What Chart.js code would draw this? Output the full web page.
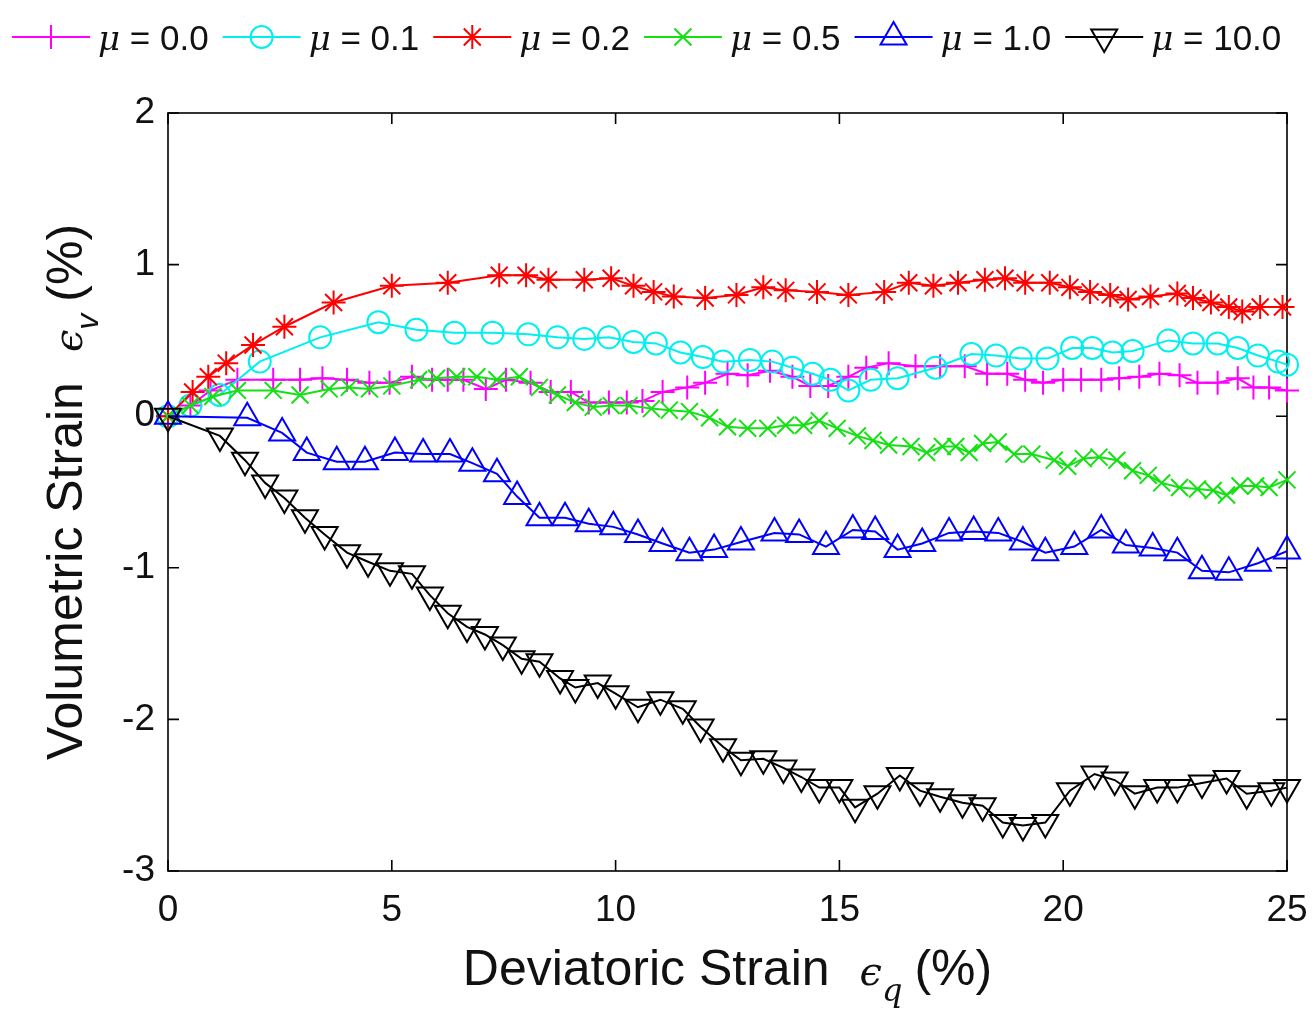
<!DOCTYPE html>
<html>
<head>
<meta charset="utf-8">
<script src="https://cdn.jsdelivr.net/npm/chart.js@4.4.0/dist/chart.umd.min.js"></script>
<style>
  html, body { margin: 0; padding: 0; background: #fff; }
</style>
</head>
<body>
<canvas id="strainChart" width="1314" height="1016"></canvas>
<script>
/* Volumetric vs deviatoric strain for several friction coefficients */

const X_TICKS = [0, 5, 10, 15, 20, 25];
const Y_TICKS = [-3, -2, -1, 0, 1, 2];
const SERIES_LABELS = ['0.0', '0.1', '0.2', '0.5', '1.0', '10.0'];

const mu00X = [0, 0.5, 0.95, 1.55, 2.35, 2.95, 3.45, 4.0, 4.5, 4.95, 5.45, 5.9, 6.25, 6.6, 7.1, 7.55, 8.1, 8.55, 9.0, 9.4, 9.85, 10.25, 10.6, 11.05, 11.6, 12.0, 12.5, 12.95, 13.45, 13.95, 14.35, 14.75, 15.2, 15.6, 16.1, 16.7, 17.25, 17.8, 18.3, 18.75, 19.15, 19.55, 20.0, 20.4, 20.85, 21.25, 21.7, 22.15, 22.6, 23.0, 23.45, 23.9, 24.25, 24.6, 25];
const mu00Y = [0, 0.07, 0.17, 0.24, 0.24, 0.24, 0.25, 0.24, 0.22, 0.22, 0.26, 0.24, 0.24, 0.24, 0.18, 0.24, 0.22, 0.16, 0.16, 0.09, 0.09, 0.09, 0.10, 0.16, 0.19, 0.22, 0.28, 0.27, 0.30, 0.26, 0.20, 0.20, 0.26, 0.32, 0.35, 0.33, 0.33, 0.33, 0.28, 0.28, 0.24, 0.22, 0.24, 0.24, 0.24, 0.25, 0.26, 0.28, 0.27, 0.22, 0.22, 0.25, 0.19, 0.19, 0.17];

const mu01X = [0, 0.5, 1.15, 2.05, 3.4, 4.7, 5.55, 6.4, 7.25, 8.05, 8.7, 9.3, 9.85, 10.4, 10.9, 11.45, 11.95, 12.4, 13.0, 13.5, 13.95, 14.4, 14.8, 15.2, 15.7, 16.3, 17.15, 17.95, 18.5, 19.05, 19.65, 20.2, 20.65, 21.1, 21.55, 22.35, 22.9, 23.45, 23.9, 24.35, 24.8, 25];
const mu01Y = [0, 0.07, 0.14, 0.36, 0.52, 0.62, 0.57, 0.55, 0.55, 0.54, 0.52, 0.51, 0.52, 0.49, 0.48, 0.42, 0.39, 0.36, 0.37, 0.36, 0.32, 0.28, 0.24, 0.17, 0.24, 0.25, 0.32, 0.41, 0.40, 0.38, 0.38, 0.45, 0.45, 0.42, 0.43, 0.50, 0.48, 0.48, 0.45, 0.40, 0.36, 0.34];

const mu02X = [0, 0.55, 0.9, 1.3, 1.9, 2.6, 3.7, 5.0, 6.25, 7.4, 8.0, 8.5, 9.3, 9.9, 10.4, 10.85, 11.3, 12.0, 12.7, 13.3, 13.8, 14.5, 15.2, 16.0, 16.55, 17.1, 17.65, 18.25, 18.7, 19.15, 19.7, 20.15, 20.6, 21.05, 21.45, 21.95, 22.55, 22.9, 23.3, 23.7, 24.0, 24.4, 24.9];
const mu02Y = [0, 0.16, 0.26, 0.35, 0.47, 0.59, 0.75, 0.86, 0.88, 0.93, 0.93, 0.90, 0.90, 0.91, 0.86, 0.82, 0.79, 0.78, 0.80, 0.85, 0.83, 0.82, 0.80, 0.82, 0.88, 0.86, 0.88, 0.90, 0.91, 0.88, 0.88, 0.85, 0.82, 0.80, 0.77, 0.79, 0.81, 0.78, 0.75, 0.72, 0.69, 0.72, 0.72];

const mu05X = [0, 0.5, 1.0, 1.55, 2.35, 2.95, 3.6, 4.05, 4.5, 5.0, 5.6, 6.0, 6.45, 6.9, 7.35, 7.85, 8.3, 8.7, 9.1, 9.5, 9.9, 10.3, 10.8, 11.2, 11.65, 12.1, 12.5, 12.95, 13.4, 13.8, 14.2, 14.55, 14.95, 15.4, 15.75, 16.1, 16.6, 16.95, 17.3, 17.6, 17.9, 18.2, 18.55, 18.9, 19.3, 19.8, 20.1, 20.45, 20.8, 21.2, 21.55, 21.9, 22.2, 22.6, 23.0, 23.35, 23.65, 23.95, 24.3, 24.6, 25];
const mu05Y = [0, 0.07, 0.13, 0.17, 0.17, 0.14, 0.18, 0.19, 0.18, 0.20, 0.24, 0.25, 0.26, 0.26, 0.24, 0.26, 0.19, 0.14, 0.09, 0.06, 0.07, 0.07, 0.05, 0.04, 0.03, -0.01, -0.07, -0.08, -0.08, -0.06, -0.06, -0.03, -0.08, -0.13, -0.16, -0.19, -0.20, -0.24, -0.20, -0.20, -0.24, -0.18, -0.17, -0.25, -0.25, -0.29, -0.33, -0.28, -0.27, -0.29, -0.36, -0.39, -0.44, -0.47, -0.48, -0.49, -0.52, -0.46, -0.46, -0.47, -0.42];

const mu10X = [0, 1.77, 2.55, 3.1, 3.77, 4.4, 5.07, 5.7, 6.3, 6.8, 7.35, 7.8, 8.3, 8.87, 9.4, 9.95, 10.5, 11.05, 11.65, 12.2, 12.8, 13.55, 14.1, 14.7, 15.3, 15.8, 16.3, 16.85, 17.45, 18.0, 18.55, 19.1, 19.6, 20.25, 20.85, 21.4, 22.0, 22.55, 23.1, 23.7, 24.35, 25];
const mu10Y = [0, -0.01, -0.11, -0.24, -0.30, -0.30, -0.24, -0.25, -0.25, -0.31, -0.38, -0.53, -0.67, -0.67, -0.71, -0.73, -0.78, -0.84, -0.90, -0.88, -0.83, -0.77, -0.78, -0.86, -0.75, -0.76, -0.88, -0.84, -0.77, -0.76, -0.77, -0.83, -0.90, -0.86, -0.75, -0.85, -0.87, -0.90, -1.02, -1.03, -0.97, -0.89];

const mu100X = [0, 1.16, 1.72, 2.17, 2.6, 3.06, 3.5, 4.0, 4.47, 4.96, 5.45, 5.85, 6.25, 6.68, 7.08, 7.48, 7.9, 8.3, 8.76, 9.1, 9.6, 10.0, 10.5, 11.0, 11.5, 11.9, 12.4, 12.8, 13.3, 13.75, 14.15, 14.55, 15.0, 15.35, 15.85, 16.35, 16.8, 17.25, 17.75, 18.2, 18.65, 19.1, 19.6, 20.15, 20.7, 21.15, 21.6, 22.1, 22.55, 23.1, 23.65, 24.1, 24.65, 25];
const mu100Y = [0, -0.13, -0.29, -0.44, -0.54, -0.67, -0.78, -0.90, -0.96, -1.02, -1.04, -1.18, -1.30, -1.39, -1.44, -1.51, -1.60, -1.62, -1.73, -1.79, -1.76, -1.83, -1.92, -1.87, -1.93, -2.05, -2.18, -2.27, -2.26, -2.32, -2.38, -2.45, -2.45, -2.58, -2.49, -2.37, -2.47, -2.51, -2.55, -2.57, -2.68, -2.70, -2.68, -2.47, -2.36, -2.40, -2.49, -2.45, -2.45, -2.42, -2.39, -2.49, -2.47, -2.45];

const SERIES_X = [mu00X, mu01X, mu02X, mu05X, mu10X, mu100X];
const SERIES_Y = [mu00Y, mu01Y, mu02Y, mu05Y, mu10Y, mu100Y];

// MATLAB style: colour, marker, marker size
const STYLES = [
  { color: '#ff00ff', pointStyle: 'cross', radius: 12, rotation: 0 },
  { color: '#00f0f0', pointStyle: 'circle', radius: 11, rotation: 0 },
  { color: '#ff0000', pointStyle: 'star', radius: 12, rotation: 0 },
  { color: '#14e014', pointStyle: 'crossRot', radius: 12, rotation: 0 },
  { color: '#0000ff', pointStyle: 'triangle', radius: 15, rotation: 0 },
  { color: '#000000', pointStyle: 'triangle', radius: 15, rotation: 180 }
];

const SANS = '"Liberation Sans", Arial, sans-serif';
const SERIF = '"DejaVu Serif", "Liberation Serif", serif';
const TEXT_COLOR = '#111';

const datasets = SERIES_LABELS.map((lab, i) => ({
  label: 'μ = ' + lab,
  data: SERIES_X[i].map((x, k) => ({ x, y: SERIES_Y[i][k] })),
  borderColor: STYLES[i].color,
  borderWidth: 2,
  pointStyle: STYLES[i].pointStyle,
  pointRadius: STYLES[i].radius,
  pointRotation: STYLES[i].rotation,
  pointBorderColor: STYLES[i].color,
  pointBackgroundColor: 'rgba(0,0,0,0)',
  pointBorderWidth: 2,
  tension: 0,
  clip: false,
  order: SERIES_LABELS.length - 1 - i
}));

// box around the axes with inward ticks on all four sides
const axesBox = {
  id: 'axesBox',
  beforeDatasetsDraw(chart) {
    const { ctx, chartArea: a, scales: { x, y } } = chart;
    const len = 11;
    ctx.save();
    ctx.strokeStyle = '#000';
    ctx.lineWidth = 1.6;
    ctx.strokeRect(a.left, a.top, a.right - a.left, a.bottom - a.top);
    ctx.beginPath();
    X_TICKS.forEach(v => {
      const px = x.getPixelForValue(v);
      ctx.moveTo(px, a.bottom); ctx.lineTo(px, a.bottom - len);
      ctx.moveTo(px, a.top); ctx.lineTo(px, a.top + len);
    });
    Y_TICKS.forEach(v => {
      const py = y.getPixelForValue(v);
      ctx.moveTo(a.left, py); ctx.lineTo(a.left + len, py);
      ctx.moveTo(a.right, py); ctx.lineTo(a.right - len, py);
    });
    ctx.stroke();
    ctx.restore();
  }
};

// draws a run of text pieces (font, text, baseline shift) centred at 0
function drawPieces(ctx, pieces) {
  let total = 0;
  pieces.forEach(p => { ctx.font = p.font; p.w = ctx.measureText(p.text).width; total += p.w + (p.gap || 0); });
  let cx = -total / 2;
  pieces.forEach(p => {
    ctx.font = p.font;
    ctx.fillText(p.text, cx, p.dy || 0);
    cx += p.w + (p.gap || 0);
  });
}

const axisTitles = {
  id: 'axisTitles',
  afterDraw(chart) {
    const { ctx, chartArea: a } = chart;
    ctx.save();
    ctx.fillStyle = TEXT_COLOR;
    ctx.textBaseline = 'alphabetic';
    ctx.textAlign = 'left';

    ctx.save();
    ctx.translate((a.left + a.right) / 2, 985);
    drawPieces(ctx, [
      { text: 'Deviatoric Strain', font: '50px ' + SANS, gap: 30 },
      { text: 'ϵ', font: 'italic 40px ' + SERIF },
      { text: 'q', font: 'italic 32px ' + SERIF, dy: 16, gap: 12 },
      { text: '(%)', font: '50px ' + SANS }
    ]);
    ctx.restore();

    ctx.save();
    ctx.translate(82, (a.top + a.bottom) / 2);
    ctx.rotate(-Math.PI / 2);
    drawPieces(ctx, [
      { text: 'Volumetric Strain', font: '50px ' + SANS, gap: 30 },
      { text: 'ϵ', font: 'italic 40px ' + SERIF },
      { text: 'v', font: 'italic 32px ' + SANS, dy: 16, gap: 12 },
      { text: '(%)', font: '50px ' + SANS }
    ]);
    ctx.restore();

    ctx.restore();
  }
};

// legend row across the top: line + marker, then "μ = value"
const topLegend = {
  id: 'topLegend',
  afterDraw(chart) {
    const ctx = chart.ctx;
    const yMid = 37;
    const lineLen = 78;
    let x = 12;
    ctx.save();
    SERIES_LABELS.forEach((lab, i) => {
      const st = STYLES[i];
      ctx.strokeStyle = st.color;
      ctx.fillStyle = 'rgba(0,0,0,0)';
      ctx.lineWidth = 2;
      ctx.beginPath();
      ctx.moveTo(x, yMid);
      ctx.lineTo(x + lineLen, yMid);
      ctx.stroke();
      Chart.helpers.drawPoint(ctx, {
        pointStyle: st.pointStyle, radius: st.radius, rotation: st.rotation, borderWidth: 2
      }, x + lineLen / 2, yMid);
      x += lineLen + 8;

      ctx.fillStyle = TEXT_COLOR;
      ctx.textBaseline = 'alphabetic';
      ctx.font = 'italic 34px ' + SERIF;
      ctx.fillText('μ', x, yMid + 13);
      x += ctx.measureText('μ').width;
      ctx.font = '35px ' + SANS;
      const rest = ' = ' + lab;
      ctx.fillText(rest, x, yMid + 13);
      x += ctx.measureText(rest).width + 14;
    });
    ctx.restore();
  }
};

new Chart(document.getElementById('strainChart'), {
  type: 'line',
  data: { datasets },
  options: {
    responsive: false,
    animation: false,
    layout: { padding: { top: 113, right: 27, left: 0, bottom: 0 } },
    plugins: { legend: { display: false }, tooltip: { enabled: false } },
    scales: {
      x: {
        type: 'linear', min: 0, max: 25,
        afterBuildTicks: s => { s.ticks = X_TICKS.map(v => ({ value: v })); },
        afterFit: s => { s.height = 145; s.paddingLeft = 0; s.paddingRight = 0; },
        ticks: { color: TEXT_COLOR, font: { family: SANS, size: 37 }, padding: 18, maxRotation: 0 },
        grid: { display: false, drawTicks: false },
        border: { display: false }
      },
      y: {
        type: 'linear', min: -3, max: 2,
        afterBuildTicks: s => { s.ticks = Y_TICKS.map(v => ({ value: v })); },
        afterFit: s => { s.width = 168; s.paddingTop = 0; s.paddingBottom = 0; },
        ticks: { color: TEXT_COLOR, font: { family: SANS, size: 37 }, padding: 13 },
        grid: { display: false, drawTicks: false },
        border: { display: false }
      }
    }
  },
  plugins: [axesBox, axisTitles, topLegend]
});
</script>
</body>
</html>
